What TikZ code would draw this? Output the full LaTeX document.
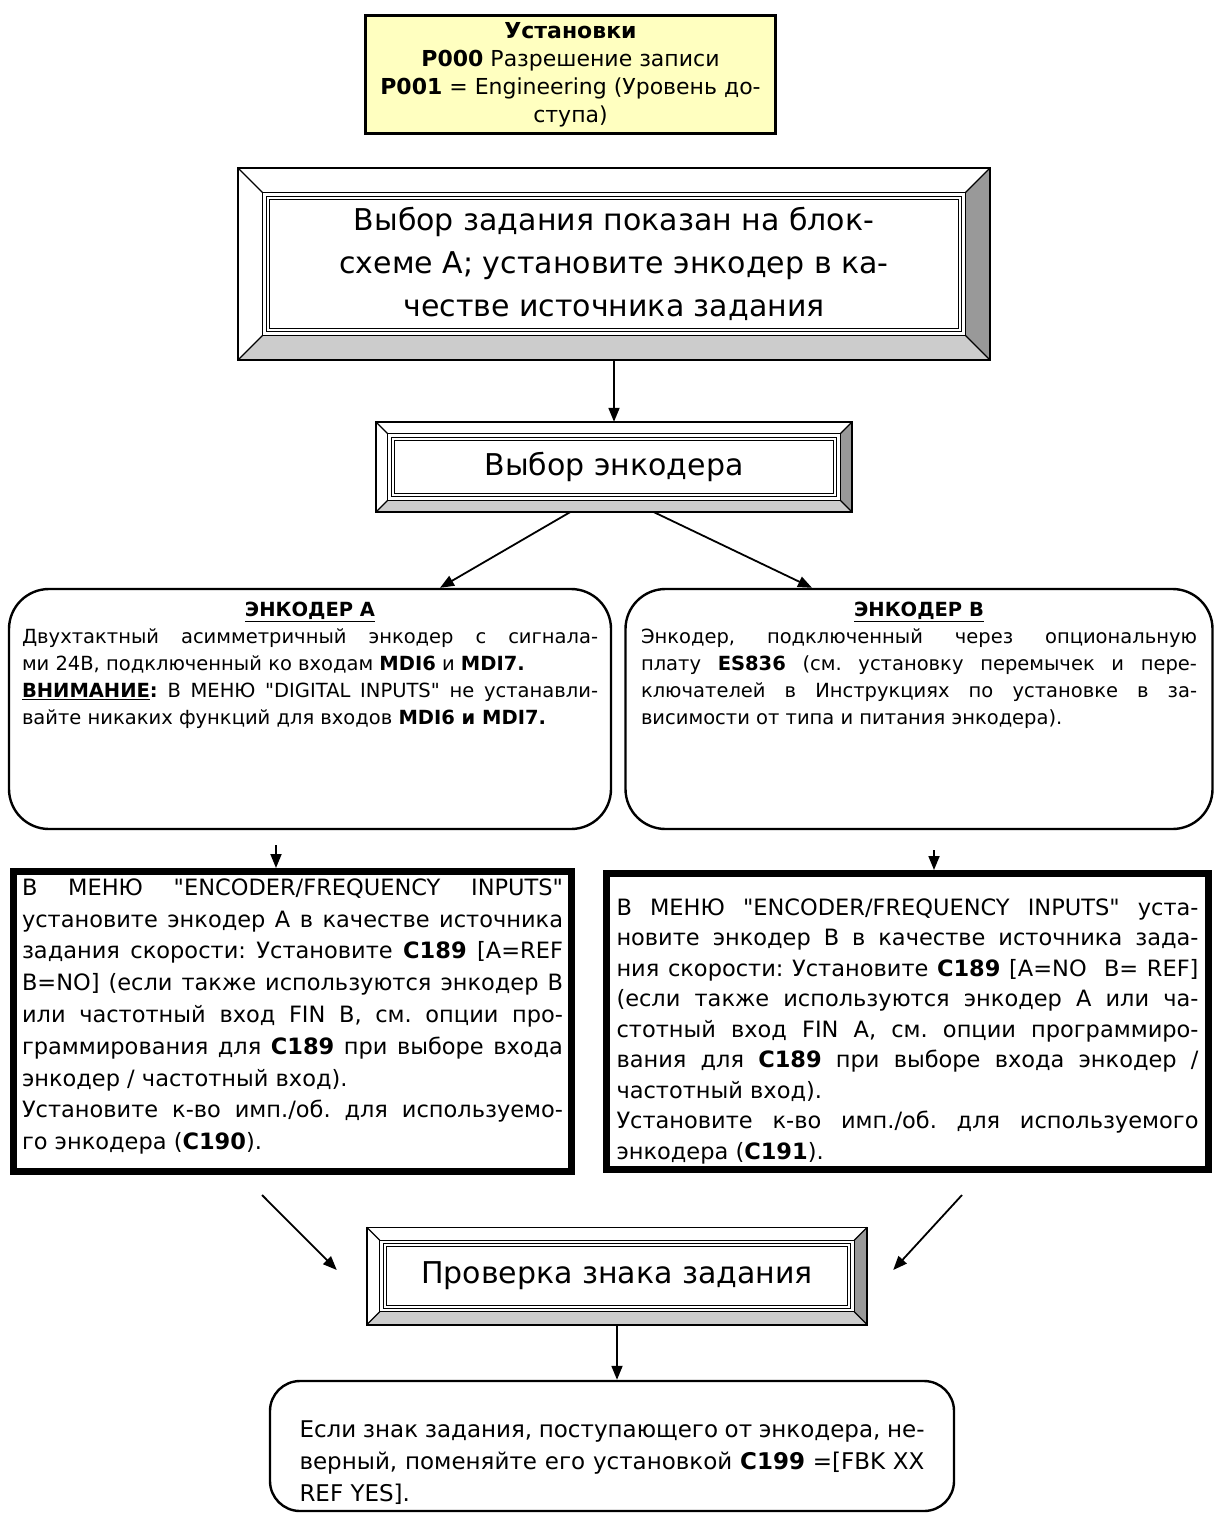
\documentclass[tikz,border=0pt]{standalone}
\usepackage{fontspec}
\setmainfont{DejaVu Sans}
\newfontfamily\plainq{DejaVu Sans}
\usetikzlibrary{arrows.meta}
\definecolor{setupyellow}{RGB}{255,255,192}
\newcommand{\jline}[1]{\makebox[\linewidth][s]{#1}}
\newcommand{\qq}{{\plainq"}}
\frenchspacing

\begin{document}
\begin{tikzpicture}[x=1pt, y=-1pt]
      \tikzstyle{every node}=[inner sep=0pt]
      \tikzstyle{flow}=[line width=1.8pt, -{Triangle[length=14pt, width=11pt]}]
      \tikzstyle{bevelframe}=[align=center, font=\fontsize{30}{43}\selectfont]
      \tikzstyle{ebox}=[draw, line width=2.4pt, rounded corners=40pt]
      \tikzstyle{thickbox}=[draw, line width=7pt]

      \useasboundingbox (0,0) rectangle (1216,1517);
      \fill[white] (0,0) rectangle (1216,1517);

      % settings
      \node[draw, line width=3pt, fill=setupyellow, minimum width=410, minimum height=118,
        align=center, font=\fontsize{22}{28}\selectfont] (set) at (570.5,74.5)
        {\textbf{Установки}\\ \textbf{P000} Разрешение записи\\
         \textbf{P001} = Engineering (Уровень до-\\ ступа)};

      % frames
      \path (614,264) node[bevelframe, minimum width=752, minimum height=192] (sel)
        {Выбор задания показан на блок-\\схеме А; установите энкодер в ка-\\честве источника задания};
      \path (614,467) node[bevelframe, minimum width=476, minimum height=90] (enc) {Выбор энкодера};
      \path (617,1276) node[bevelframe, minimum width=500, minimum height=97] (chk) {Проверка знака задания};

      \foreach \f/\b in {sel/25, enc/12, chk/13}
      {
        \fill[gray!40] (\f.south west) -- (\f.south east) -- ([shift={(-\b,-\b)}]\f.south east)
          -- ([shift={(\b,-\b)}]\f.south west) -- cycle;
        \fill[gray!80] (\f.south east) -- (\f.north east) -- ([shift={(-\b,\b)}]\f.north east)
          -- ([shift={(-\b,-\b)}]\f.south east) -- cycle;
        \draw[line width=1.6pt] (\f.north west) rectangle (\f.south east);
        \draw[line width=1.2pt] ([shift={(\b,\b)}]\f.north west) rectangle ([shift={(-\b,-\b)}]\f.south east);
        \draw[line width=1.2pt]
          (\f.north west) -- ++(\b,\b)
          (\f.north east) -- ++(-\b,\b)
          (\f.south west) -- ++(\b,-\b)
          (\f.south east) -- ++(-\b,-\b);
        \draw[line width=1pt, double, double distance=2pt]
          ([shift={(\b+5,\b+5)}]\f.north west) rectangle ([shift={(-\b-5,-\b-5)}]\f.south east);
      }

      % encoders
      \node[ebox, minimum width=602, minimum height=240] (encA) at (310,709)
        {\parbox[c][214pt][t]{576pt}{\fontsize{19.5}{27}\selectfont\raggedright
          \makebox[\linewidth]{\underline{\textbf{ЭНКОДЕР А}}}\\
          \jline{Двухтактный асимметричный энкодер с сигнала-}\\
          ми 24В, подключенный ко входам \textbf{MDI6} и \textbf{MDI7.}\\
          \jline{\underline{\textbf{ВНИМАНИЕ}}\textbf{:} В МЕНЮ \qq DIGITAL INPUTS\qq{} не устанавли-}\\
          вайте никаких функций для входов \textbf{MDI6 и MDI7.}}};
      \node[ebox, minimum width=587, minimum height=240] (encB) at (919,709)
        {\parbox[c][214pt][t]{556pt}{\fontsize{19.5}{27}\selectfont\raggedright
          \makebox[\linewidth]{\underline{\textbf{ЭНКОДЕР В}}}\\
          \jline{Энкодер, подключенный через опциональную}\\
          \jline{плату \textbf{ES836} (см. установку перемычек и пере-}\\
          \jline{ключателей в Инструкциях по установке в за-}\\
          висимости от типа и питания энкодера).}};

      % menu settings
      \node[thickbox, minimum width=558, minimum height=300] (cfgA) at (292.5,1021.5)
        {\parbox[c][286pt][t]{541pt}{\fontsize{22.5}{31.8}\selectfont\raggedright
          \jline{В МЕНЮ \qq ENCODER/FREQUENCY INPUTS\qq}\\
          \jline{установите энкодер А в качестве источника}\\
          \jline{задания скорости: Установите \textbf{C189} [A=REF}\\
          \jline{B=NO] (если также используются энкодер В}\\
          \jline{или частотный вход FIN B, см. опции про-}\\
          \jline{граммирования для \textbf{C189} при выборе входа}\\
          энкодер / частотный вход).\\
          \jline{Установите к-во имп./об. для используемо-}\\
          го энкодера (\textbf{C190}).}};
      \node[thickbox, minimum width=602, minimum height=296] (cfgB) at (907.5,1021.5)
        {\parbox[c][280pt][b]{582pt}{\fontsize{22.5}{30.5}\selectfont\raggedright
          \jline{В МЕНЮ \qq ENCODER/FREQUENCY INPUTS\qq{} уста-}\\
          \jline{новите энкодер В в качестве источника зада-}\\
          \jline{ния скорости: Установите \textbf{C189} [A=NO\ \ B= REF]}\\
          \jline{(если также используются энкодер А или ча-}\\
          \jline{стотный вход FIN A, см. опции программиро-}\\
          \jline{вания для \textbf{C189} при выборе входа энкодер /}\\
          частотный вход).\\
          \jline{Установите к-во имп./об. для используемого}\\
          энкодера (\textbf{C191}).}};

      % sign check result
      \node[ebox, rounded corners=30pt, minimum width=684, minimum height=130] (fin) at (612,1446)
        {\parbox[c][114pt][b]{625pt}{\fontsize{23}{32}\selectfont\raggedright
          \jline{Если знак задания, поступающего от энкодера, не-}\\
          \jline{верный, поменяйте его установкой \textbf{C199} =[FBK XX}\\
          REF YES].}};

      \coordinate (a1) at (276,845);
      \coordinate (b1) at (934,850);
      \coordinate (a2) at (262,1195);
      \coordinate (b2) at (962,1195);

      \draw[flow] (sel.south) -- (enc.north);
      \draw[flow] ([xshift=-44pt]enc.south) -- ([xshift=130pt]encA.north);
      \draw[flow] ([xshift=40pt]enc.south) -- ([xshift=-107pt]encB.north);
      \draw[flow] (a1) -- (a1 |- cfgA.north);
      \draw[flow] (b1) -- (b1 |- cfgB.north);
      \draw[flow] (a2) -- ([shift={(-30,-6)}]chk.west);
      \draw[flow] (b2) -- ([shift={(26,-6)}]chk.east);
      \draw[flow] (chk.south) -- (chk.south |- fin.north);
\end{tikzpicture}
\end{document}
